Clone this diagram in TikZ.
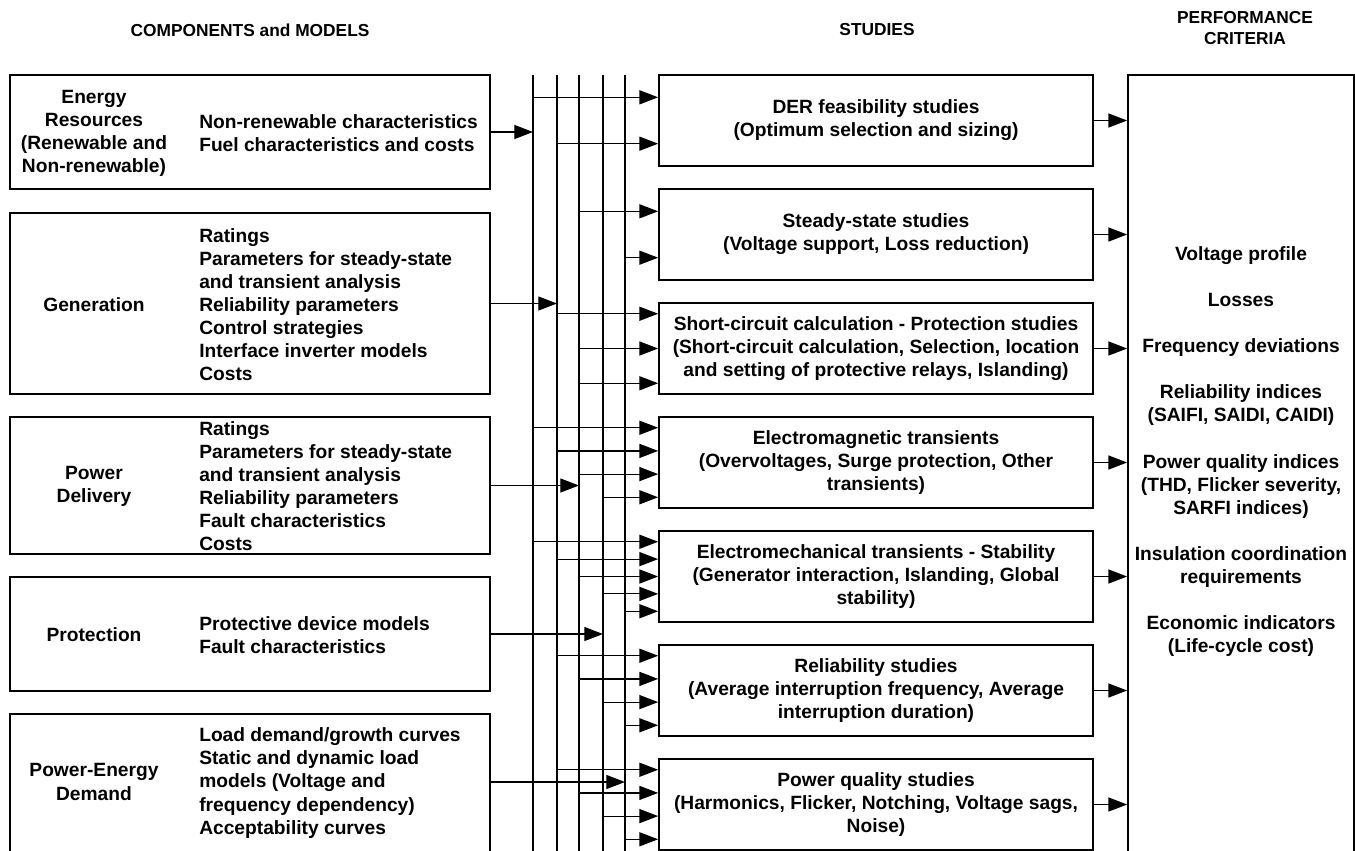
\documentclass[tikz,border=0pt]{standalone}
\usepackage{fontspec}
\setmainfont{Liberation Sans}
\usetikzlibrary{arrows.meta,calc}

\begin{document}
\begin{tikzpicture}[
    x=0.75pt, y=-0.75pt,
    font=\bfseries\fontsize{14.4}{17.3}\selectfont,
    comp/.style={draw, line width=1.3pt, minimum width=360pt, inner sep=0pt},
    study/.style={draw, line width=1.3pt, minimum width=325.5pt, minimum height=68.25pt, align=center, inner sep=0pt},
    lab/.style={align=center, inner sep=0pt},
    items/.style={align=left, anchor=west, inner sep=0pt},
    head/.style={font=\bfseries\fontsize{13}{15.5}\selectfont, align=center, inner sep=0pt},
    bus/.style={line width=1.3pt},
    conn/.style={line width=0.9pt, -{Triangle[length=14pt,width=10.5pt]}}
  ]
  \useasboundingbox (0,0) rectangle (1355,850);

  % column heads
  \node[head] (hcomp) at (250,30) {COMPONENTS and MODELS};
  \node[head] (hstud) at (877,30) {STUDIES};
  \node[head] (hperf) at (1245,28) {PERFORMANCE\\CRITERIA};

  % components and models
  \node[comp, minimum height=85.5pt] (ener) at (250,132) {};
  \node[lab] (enerl) at (94,133) {Energy\\Resources\\(Renewable and\\Non-renewable)};
  \node[items] (eneri) at (199,133) {Non-renewable characteristics\\Fuel characteristics and costs};

  \node[comp, minimum height=135.75pt] (gen) at (250,303.5) {};
  \node[lab] (genl) at (94,304.5) {Generation};
  \node[items] (geni) at (199,304.5) {Ratings\\Parameters for steady-state\\and transient analysis\\Reliability parameters\\Control strategies\\Interface inverter models\\Costs};

  \node[comp, minimum height=102.75pt] (deliv) at (250,485.5) {};
  \node[lab] (delivl) at (94,486) {Power\\Delivery};
  \node[items] (delivi) at (199,486) {Ratings\\Parameters for steady-state\\and transient analysis\\Reliability parameters\\Fault characteristics\\Costs};

  \node[comp, minimum height=85.5pt] (prot) at (250,634) {};
  \node[lab] (protl) at (94,635) {Protection};
  \node[items] (proti) at (199,635) {Protective device models\\Fault characteristics};

  \node[comp, minimum height=103.5pt] (dem) at (250,783) {};
  \node[lab] (deml) at (94,782) {Power-Energy\\Demand};
  \node[items] (demi) at (199,783) {Load demand/growth curves\\Static and dynamic load\\models (Voltage and\\frequency dependency)\\Acceptability curves};

  % studies
  \node[study] (s1) at (876,120.5) {DER feasibility studies\\(Optimum selection and sizing)};
  \node[study] (s2) at (876,234.5) {Steady-state studies\\(Voltage support, Loss reduction)};
  \node[study] (s3) at (876,348.5) {Short-circuit calculation -  Protection studies\\(Short-circuit calculation, Selection, location\\and setting of protective relays, Islanding)};
  \node[study] (s4) at (876,462.5) {Electromagnetic transients\\(Overvoltages, Surge protection, Other\\transients)};
  \node[study] (s5) at (876,576.5) {Electromechanical transients - Stability\\(Generator interaction, Islanding, Global\\stability)};
  \node[study] (s6) at (876,690.5) {Reliability studies\\(Average interruption frequency, Average\\interruption duration)};
  \node[study] (s7) at (876,804.5) {Power quality studies\\(Harmonics, Flicker, Notching, Voltage sags,\\Noise)};

  % performance criteria
  \node[draw, line width=1.3pt, minimum width=169.5pt, minimum height=582.75pt, inner sep=0pt] (perf) at (1241,463.5) {};
  \node[align=center, inner sep=0pt] (crit) at (1241,451.5) {Voltage profile\\[17.3pt]Losses\\[17.3pt]Frequency deviations\\[17.3pt]Reliability indices\\(SAIFI, SAIDI, CAIDI)\\[17.3pt]Power quality indices\\(THD, Flicker severity,\\SARFI indices)\\[17.3pt]Insulation coordination\\requirements\\[17.3pt]Economic indicators\\(Life-cycle cost)};

  % bus lines
  \foreach \i/\x in {1/533,2/557,3/579,4/603,5/625}{
    \coordinate (bus\i) at (\x,75);
    \coordinate (bus\i end) at (\x,852);
    \draw[bus] (bus\i) -- (bus\i end);
  }

  \draw[conn] (ener.east) -- (ener.east -| bus1);
  \draw[conn] (gen.east) -- (gen.east -| bus2);
  \draw[conn] (deliv.east) -- (deliv.east -| bus3);
  \draw[conn] (prot.east) -- (prot.east -| bus4);
  \draw[conn] (dem.east |- deml) -- (deml -| bus5);

  % bus to studies: study/bus/fraction of height
  \foreach \s/\b/\f in {1/1/0.25, 1/2/0.75, 2/3/0.25, 2/5/0.75,
      3/2/0.125, 3/3/0.5, 3/3/0.875,
      4/1/0.125, 4/2/0.375, 4/3/0.625, 4/4/0.875,
      5/1/0.125, 5/2/0.3125, 5/3/0.5, 5/4/0.6875, 5/5/0.875,
      6/2/0.125, 6/3/0.375, 6/4/0.625, 6/5/0.875,
      7/2/0.125, 7/3/0.375, 7/4/0.625, 7/5/0.875}{
    \coordinate (t) at ($(s\s.north west)!\f!(s\s.south west)$);
    \draw[conn] (bus\b |- t) -- (t);
  }

  \foreach \s in {1,...,7}
    \draw[conn] (s\s.east) -- (s\s.east -| perf.west);
\end{tikzpicture}
\end{document}
